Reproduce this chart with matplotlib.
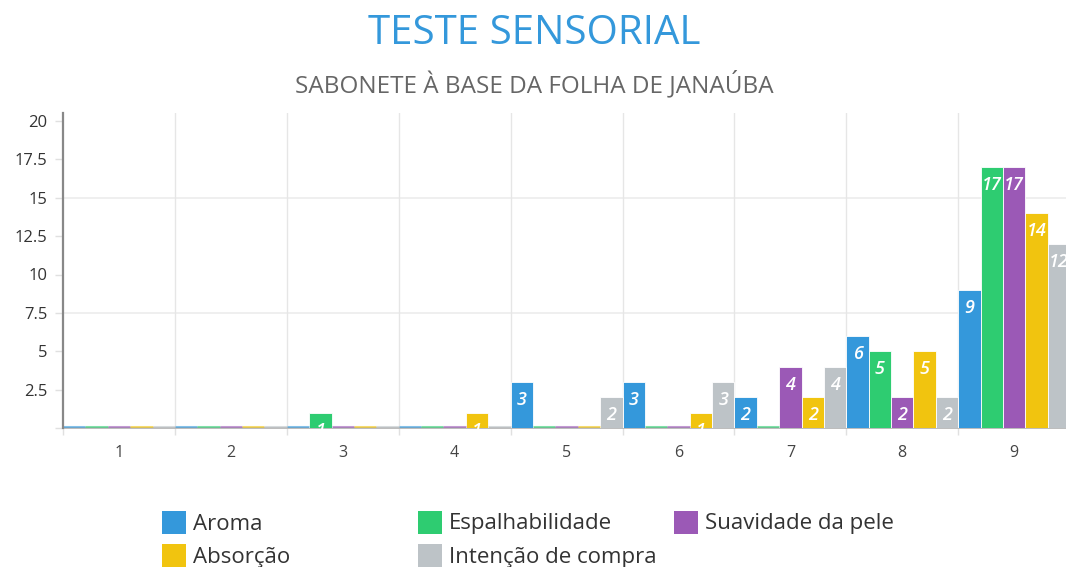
import matplotlib
matplotlib.use("Agg")
import matplotlib.pyplot as plt
from matplotlib.patches import Rectangle
import numpy as np

categories = ["1", "2", "3", "4", "5", "6", "7", "8", "9"]
series_names = ["Aroma", "Espalhabilidade", "Suavidade da pele", "Absorção", "Intenção de compra"]
aroma = [0, 0, 0, 0, 3, 3, 2, 6, 9]
espalhabilidade = [0, 0, 1, 0, 0, 0, 0, 5, 17]
suavidade = [0, 0, 0, 0, 0, 0, 4, 2, 17]
absorcao = [0, 0, 0, 1, 0, 1, 2, 5, 14]
intencao = [0, 0, 0, 0, 2, 3, 4, 2, 12]
series_values = [aroma, espalhabilidade, suavidade, absorcao, intencao]
colors = ["#3498db", "#2ecc71", "#9b59b6", "#f1c40f", "#bdc3c7"]
y_ticks = [0, 2.5, 5, 7.5, 10, 12.5, 15, 17.5, 20]
y_grid = [7.5, 15]
title = "TESTE SENSORIAL"
subtitle = "SABONETE À BASE DA FOLHA DE JANAÚBA"

FONT = "Open Sans"
W, H = 1066, 567
fig = plt.figure(figsize=(W / 100, H / 100), dpi=100)
ax = fig.add_axes([63 / W, (H - 428) / H, (W - 63) / W, 315 / H])

n = len(categories)
xc = np.arange(1, n + 1)
pitch = 0.2
bw = 0.2
for j, (vals, col) in enumerate(zip(series_values, colors)):
    xs = xc - 0.4 + pitch * j
    ax.bar(xs, vals, width=bw, color=col, edgecolor="white", linewidth=0.6, zorder=3)
    for x, v in zip(xs, vals):
        if v == 0:
            ax.hlines(0.06, x - bw / 2, x + bw / 2, colors=col, lw=2.2, alpha=0.6, zorder=4)
        else:
            ax.annotate(str(v), (x, v), xytext=(0, -13), textcoords="offset points",
                        ha="center", va="center", color="white", fontsize=13,
                        fontweight="semibold", fontstyle="italic", family=FONT, zorder=5)

ax.set_xlim(0.5, 0.5 + (W - 63) / 111.9)
ax.set_ylim(0, 20 * 315 / 307)

# grid
for g in y_grid:
    ax.axhline(g, color="#ececec", lw=1.2, zorder=1)
bounds = np.arange(0.5, n, 1.0)
for b in bounds[1:]:
    ax.axvline(b, color="#e6e6e6", lw=1, zorder=1)

ax.set_xticks(bounds)
ax.set_xticklabels([])
ax.tick_params(axis="x", which="major", length=5, color="#e0e0e0", width=1)
ax.set_xticks(xc, minor=True)
ax.set_xticklabels(categories, minor=True, family=FONT, fontsize=11.5, color="#444444")
ax.tick_params(axis="x", which="minor", length=0, pad=12)

ax.set_yticks(y_ticks)
ax.set_yticklabels(["" if t == 0 else f"{t:g}" for t in y_ticks], family=FONT,
                   fontsize=12, color="#333333")
ax.tick_params(axis="y", length=6, color="#e0e0e0", width=1, pad=5)

for s in ["top", "right"]:
    ax.spines[s].set_visible(False)
ax.spines["left"].set_color("#888888")
ax.spines["left"].set_linewidth(1.6)
ax.spines["left"].set_zorder(6)
ax.spines["bottom"].set_color("#b0b0b0")
ax.spines["bottom"].set_linewidth(1.2)
ax.spines["bottom"].set_zorder(2)
ax.spines["left"].set_bounds(0, 20 * 315 / 307)

fig.text(534 / W, 1 - 34 / H, title, ha="center", va="center", color="#3498db",
         fontsize=29, family=FONT)
fig.text(534 / W, 1 - 85 / H, subtitle, ha="center", va="center", color="#666666",
         fontsize=17.5, family=FONT)

# legend
for i, (name, col) in enumerate(zip(series_names, colors)):
    cx = 162 + 256 * (i % 3)
    cy = 522 + 33 * (i // 3)
    fig.add_artist(Rectangle((cx / W, 1 - (cy + 12) / H), 24 / W, 23 / H,
                             transform=fig.transFigure, color=col, lw=0))
    fig.text((cx + 31) / W, 1 - (cy + 2) / H, name, ha="left", va="center",
             fontsize=16, color="#333333", family=FONT)

fig.savefig("out.png", dpi=100)
